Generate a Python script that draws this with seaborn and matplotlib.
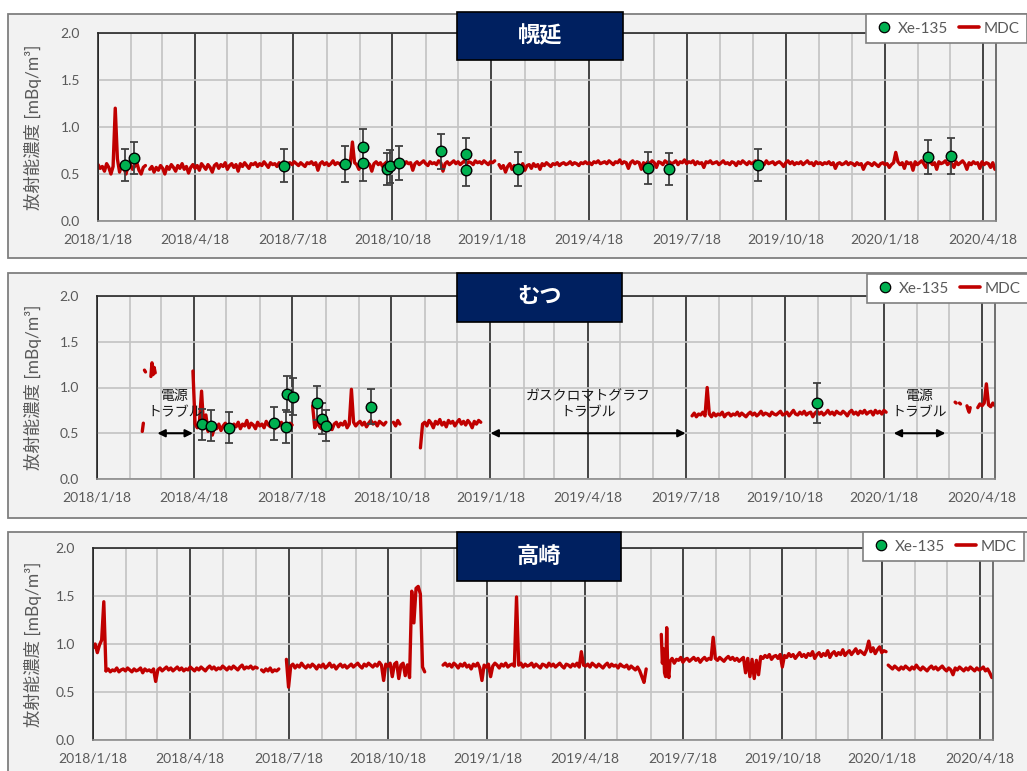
import pandas as pd
import matplotlib
matplotlib.use("Agg")
import matplotlib.pyplot as plt
import matplotlib.dates as mdates
import matplotlib.transforms as mtransforms
from matplotlib.patches import Rectangle
from matplotlib.lines import Line2D
from matplotlib.ticker import FixedLocator, FuncFormatter
import seaborn as sns

sns.set_style("white")
plt.rcParams["font.family"] = ["Lato", "Noto Sans CJK JP", "DejaVu Sans"]

# ------------------------------------------------------------------ data
X_START = "2018-01-18"
X_END = "2020-04-30"
MAJOR_TICKS = ["2018-01-18", "2018-04-18", "2018-07-18", "2018-10-18",
               "2019-01-18", "2019-04-18", "2019-07-18", "2019-10-18",
               "2020-01-18", "2020-04-18"]
Y_TICKS = [0.0, 0.5, 1.0, 1.5, 2.0]
Y_LABEL = "放射能濃度 [mBq/m³]"
STATIONS = ["幌延", "むつ", "高崎"]

# MDC records: (first date, sampling interval in days, values)
HORONOBE_MDC = [
    ("2018-01-18", 2, [0.60, 0.56, 0.58, 0.53, 0.61, 0.57, 0.50, 0.58, 1.20, 0.66,
                       0.52, 0.60, 0.56, 0.50, 0.59, 0.61, 0.55, 0.58, 0.62, 0.54,
                       0.50, 0.57, 0.59]),
    ("2018-03-07", 2, [0.55, 0.58, 0.52, 0.57, 0.54, 0.59, 0.56, 0.50, 0.58, 0.55,
                       0.60, 0.57, 0.53, 0.59, 0.56, 0.61, 0.55, 0.58, 0.51, 0.57,
                       0.60, 0.56, 0.59, 0.54, 0.61, 0.58, 0.55, 0.60, 0.57, 0.52,
                       0.59, 0.61, 0.56, 0.60, 0.58, 0.62, 0.55, 0.59, 0.61, 0.57,
                       0.60, 0.53, 0.61, 0.58, 0.62, 0.59, 0.56, 0.61, 0.60, 0.62,
                       0.58, 0.61, 0.59, 0.63, 0.60, 0.57, 0.62, 0.60, 0.61, 0.58,
                       0.62, 0.60, 0.63, 0.59, 0.61, 0.62, 0.60, 0.63, 0.61, 0.59,
                       0.62, 0.60, 0.58, 0.62, 0.61, 0.63, 0.60, 0.62, 0.54, 0.61,
                       0.63, 0.60, 0.62, 0.59, 0.61, 0.64, 0.60, 0.62, 0.61, 0.58,
                       0.62, 0.60, 0.63, 0.61, 0.84, 0.62, 0.60, 0.55, 0.61, 0.63,
                       0.59, 0.62, 0.60, 0.53, 0.61, 0.63, 0.60, 0.62, 0.58, 0.61,
                       0.63, 0.60, 0.55, 0.62, 0.61, 0.64, 0.59, 0.62, 0.60, 0.63,
                       0.61, 0.62, 0.54, 0.61, 0.63, 0.60, 0.62, 0.64, 0.61, 0.59,
                       0.63, 0.61, 0.62, 0.60, 0.64, 0.62, 0.53, 0.61, 0.63, 0.60,
                       0.62, 0.64, 0.61, 0.63, 0.60, 0.62, 0.64, 0.61, 0.63, 0.62,
                       0.60, 0.64, 0.62, 0.63, 0.61, 0.64, 0.62, 0.60, 0.63, 0.62,
                       0.64]),
    ("2019-01-25", 2, [0.60, 0.56, 0.59, 0.52, 0.58, 0.61, 0.55, 0.59, 0.53, 0.60,
                       0.57, 0.61, 0.54, 0.59, 0.60, 0.56, 0.61, 0.58, 0.60, 0.55,
                       0.61, 0.59, 0.62, 0.60, 0.58, 0.61, 0.60, 0.62, 0.59, 0.61,
                       0.62, 0.60, 0.61, 0.63, 0.60, 0.62, 0.61, 0.59, 0.62, 0.61,
                       0.63, 0.61, 0.62, 0.60, 0.63, 0.62, 0.64, 0.61, 0.62, 0.63,
                       0.61, 0.64, 0.62, 0.60, 0.63, 0.62, 0.65, 0.61, 0.63, 0.62,
                       0.56, 0.62, 0.64, 0.61, 0.63, 0.62, 0.55, 0.62, 0.60, 0.63,
                       0.61, 0.64, 0.62, 0.57, 0.63, 0.62, 0.60, 0.64, 0.62, 0.63,
                       0.61, 0.62, 0.64, 0.60, 0.63, 0.62, 0.65, 0.61, 0.63, 0.62,
                       0.64, 0.60, 0.63, 0.61, 0.62, 0.57, 0.63, 0.62, 0.64, 0.61,
                       0.62, 0.63, 0.60, 0.62, 0.64, 0.61, 0.62, 0.60, 0.63, 0.62,
                       0.59, 0.63, 0.61, 0.64, 0.62, 0.60, 0.63, 0.61, 0.62, 0.64,
                       0.61, 0.63, 0.62, 0.60, 0.64, 0.61, 0.62, 0.63, 0.60, 0.62,
                       0.63, 0.61, 0.58, 0.62, 0.64, 0.61, 0.63, 0.60, 0.62, 0.61,
                       0.63, 0.60, 0.62, 0.64, 0.61, 0.62, 0.59, 0.63, 0.61, 0.62,
                       0.60, 0.62, 0.61, 0.63, 0.60, 0.62, 0.56, 0.61, 0.62, 0.60,
                       0.61, 0.63, 0.60, 0.62, 0.61, 0.59, 0.62, 0.60, 0.61, 0.55,
                       0.60, 0.62, 0.61, 0.59, 0.62, 0.60, 0.58, 0.61, 0.62, 0.60,
                       0.61, 0.57, 0.60, 0.62, 0.73, 0.63, 0.60, 0.62, 0.56, 0.63,
                       0.61, 0.62, 0.54, 0.63, 0.60, 0.62, 0.64, 0.61, 0.57, 0.62,
                       0.63, 0.60, 0.62, 0.55, 0.63, 0.61, 0.62, 0.64, 0.60, 0.62,
                       0.61, 0.57, 0.63, 0.60, 0.62, 0.64, 0.61, 0.55, 0.62, 0.60,
                       0.63, 0.61, 0.62, 0.56, 0.63, 0.60, 0.62, 0.61, 0.57, 0.62,
                       0.55]),
]
HORONOBE_XE_DATES = ["2018-02-12", "2018-02-20", "2018-07-10", "2018-09-04", "2018-09-21",
                     "2018-09-21", "2018-10-13", "2018-10-16", "2018-10-24", "2018-12-02",
                     "2018-12-25", "2018-12-25", "2019-02-12", "2019-06-12", "2019-07-02",
                     "2019-09-22", "2020-02-27", "2020-03-19"]
HORONOBE_XE = [0.60, 0.67, 0.59, 0.61, 0.79, 0.62, 0.55, 0.58, 0.62, 0.74,
               0.71, 0.54, 0.55, 0.56, 0.55, 0.60, 0.68, 0.69]
HORONOBE_XE_ERR = [0.17, 0.17, 0.18, 0.19, 0.19, 0.19, 0.17, 0.18, 0.18, 0.19,
                   0.17, 0.17, 0.18, 0.17, 0.17, 0.17, 0.18, 0.19]

MUTSU_MDC = [
    ("2018-03-01", 1, [0.52, 0.61]),
    ("2018-03-03", 1, [1.19, 1.17]),
    ("2018-03-09", 1, [1.12, 1.27, 1.14, 1.22, 1.16]),
    ("2018-04-17", 2, [1.18, 0.60, 0.56, 0.62, 0.96, 0.55, 0.70, 0.52, 0.58, 0.48,
                       0.57, 0.55, 0.60, 0.53, 0.58, 0.61, 0.56, 0.59, 0.54, 0.60,
                       0.57, 0.62, 0.55, 0.60, 0.58, 0.64, 0.56, 0.61, 0.59, 0.55,
                       0.62, 0.58, 0.60, 0.56, 0.63, 0.59, 0.57, 0.61, 0.55, 0.60,
                       0.58, 0.62, 0.56, 0.60, 0.54, 0.61, 0.59]),
    ("2018-08-06", 2, [0.80, 0.56, 0.62, 0.58, 0.55, 0.61, 0.57, 0.63, 0.59, 0.54,
                       0.60, 0.62, 0.57, 0.61, 0.59, 0.63, 0.56, 0.60, 0.98, 0.62,
                       0.58, 0.61, 0.63, 0.59, 0.62, 0.57, 0.61, 0.64, 0.60, 0.62,
                       0.58, 0.63, 0.61, 0.59, 0.62]),
    ("2018-10-20", 2, [0.62, 0.58, 0.64, 0.60]),
    ("2018-11-14", 2, [0.34, 0.60, 0.62, 0.58, 0.64, 0.61, 0.56, 0.63, 0.60, 0.65,
                       0.59, 0.62, 0.57, 0.64, 0.61, 0.63, 0.58, 0.62, 0.65, 0.60,
                       0.63, 0.59, 0.64, 0.61, 0.56, 0.63, 0.60, 0.64, 0.62]),
    ("2019-07-24", 2, [0.69, 0.72, 0.68, 0.71, 0.70, 0.73, 0.69, 1.00, 0.71, 0.68,
                       0.72, 0.69, 0.71, 0.70, 0.73, 0.68, 0.71, 0.72, 0.69, 0.71,
                       0.70, 0.73, 0.69, 0.72, 0.70, 0.68, 0.71, 0.73, 0.70, 0.72,
                       0.69, 0.71, 0.74, 0.70, 0.72, 0.71, 0.69, 0.73, 0.71, 0.70,
                       0.72, 0.74, 0.70, 0.71, 0.73, 0.69, 0.72, 0.75, 0.71, 0.70,
                       0.73, 0.71, 0.74, 0.70, 0.72, 0.73, 0.68, 0.72, 0.74, 0.71,
                       0.73, 0.70, 0.72, 0.75, 0.71, 0.73, 0.70, 0.74, 0.72, 0.71,
                       0.74, 0.72, 0.69, 0.73, 0.75, 0.71, 0.73, 0.70, 0.74, 0.72,
                       0.75, 0.71, 0.73, 0.74, 0.70, 0.75, 0.72, 0.74, 0.71, 0.75,
                       0.73]),
    ("2020-03-24", 1, [0.84, 0.83]),
    ("2020-03-28", 1, [0.83, 0.82]),
    ("2020-04-04", 1, [0.80, 0.76, 0.73, 0.78]),
    ("2020-04-14", 2, [0.78, 0.82, 0.80, 0.83, 1.04, 0.81, 0.79, 0.83, 0.80, 0.82]),
]
MUTSU_XE_DATES = ["2018-04-25", "2018-05-04", "2018-05-20", "2018-07-01", "2018-07-12",
                  "2018-07-13", "2018-07-19", "2018-08-10", "2018-08-15", "2018-08-18",
                  "2018-09-29", "2019-11-17"]
MUTSU_XE = [0.60, 0.58, 0.56, 0.61, 0.57, 0.93, 0.90, 0.83, 0.66, 0.58, 0.79, 0.83]
MUTSU_XE_ERR = [0.17, 0.17, 0.17, 0.18, 0.18, 0.20, 0.20, 0.19, 0.17, 0.17, 0.19, 0.22]

# outage periods at むつ: (label, start, end)
MUTSU_OUTAGES = [
    ("電源\nトラブル", "2018-03-15", "2018-04-17"),
    ("ガスクロマトグラフ\nトラブル", "2019-01-18", "2019-07-18"),
    ("電源\nトラブル", "2020-01-27", "2020-03-15"),
]

TAKASAKI_MDC = [
    ("2018-01-18", 2, [0.96, 1.00, 0.91, 0.99, 1.04, 1.44, 0.72]),
    ("2018-01-30", 2, [0.72, 0.74, 0.71, 0.73, 0.72, 0.75, 0.71, 0.73, 0.74, 0.72,
                       0.75, 0.73, 0.71, 0.74, 0.72, 0.73, 0.75, 0.70, 0.74, 0.72,
                       0.73, 0.71, 0.74, 0.61, 0.73, 0.75, 0.72, 0.74, 0.76, 0.73,
                       0.75, 0.72, 0.74, 0.76, 0.73, 0.75, 0.72, 0.74, 0.73, 0.76,
                       0.74, 0.72, 0.75, 0.73, 0.76, 0.74, 0.72, 0.75, 0.77, 0.74,
                       0.76, 0.73, 0.75, 0.74, 0.77, 0.75, 0.73, 0.76, 0.74, 0.77,
                       0.75, 0.73, 0.76, 0.78, 0.74, 0.76, 0.75, 0.77, 0.74, 0.76,
                       0.75]),
    ("2018-06-23", 2, [0.73, 0.71, 0.74, 0.72, 0.75, 0.71, 0.73, 0.72, 0.74]),
    ("2018-07-16", 2, [0.84, 0.55, 0.77, 0.79, 0.75, 0.78, 0.76, 0.80, 0.77, 0.75,
                       0.78, 0.76, 0.79, 0.77, 0.74, 0.78, 0.76, 0.79, 0.75, 0.77,
                       0.80, 0.76, 0.78, 0.74, 0.77, 0.79, 0.76, 0.78, 0.75, 0.77,
                       0.79, 0.76, 0.78, 0.80, 0.77, 0.75, 0.79, 0.77, 0.80, 0.78,
                       0.76, 0.79, 0.77, 0.81, 0.78, 0.62, 0.79, 0.77, 0.80, 0.66,
                       0.79, 0.81, 0.64, 0.78, 0.80, 0.67, 0.78]),
    ("2018-11-05", 2, [0.78, 0.65, 1.55, 1.22, 1.58, 1.60, 1.52, 0.76, 0.71]),
    ("2018-12-08", 2, [0.78, 0.80, 0.77, 0.79, 0.76, 0.80, 0.78, 0.75, 0.79, 0.77,
                       0.80, 0.76, 0.78, 0.74, 0.79, 0.77, 0.80, 0.75, 0.62, 0.78,
                       0.76, 0.79, 0.66, 0.77, 0.80, 0.78, 0.75, 0.79, 0.77, 0.80,
                       0.76, 0.78, 0.79, 0.77, 1.49, 0.78, 0.80, 0.76, 0.79, 0.77,
                       0.78, 0.80, 0.76, 0.79, 0.77, 0.75, 0.79, 0.78, 0.76, 0.80,
                       0.77, 0.79, 0.76, 0.78, 0.80, 0.77, 0.75, 0.79, 0.78, 0.76,
                       0.79, 0.77, 0.80, 0.76, 0.92, 0.78, 0.77, 0.79, 0.76, 0.80,
                       0.78, 0.76, 0.79, 0.77, 0.75, 0.78, 0.80, 0.76, 0.79, 0.77,
                       0.78, 0.75, 0.79, 0.77, 0.76, 0.78, 0.74, 0.77, 0.75, 0.73,
                       0.76, 0.72, 0.66, 0.60, 0.74]),
    ("2019-06-28", 1, [1.10, 0.80, 0.95, 0.70, 0.66, 1.17, 0.72, 0.65, 0.82]),
    ("2019-07-06", 2, [0.82, 0.85, 0.80, 0.84, 0.83, 0.86, 0.81, 0.84, 0.85, 0.82,
                       0.84, 0.86, 0.83, 0.85, 0.81, 0.84, 0.86, 0.83, 0.85, 0.84,
                       1.07, 0.85, 0.83, 0.86, 0.84, 0.82, 0.85, 0.87, 0.84, 0.86,
                       0.83, 0.85, 0.82, 0.84, 0.86, 0.70, 0.85, 0.66, 0.84, 0.64,
                       0.83, 0.68, 0.87, 0.85, 0.88, 0.86, 0.89, 0.84, 0.87, 0.88,
                       0.85, 0.89, 0.76, 0.88, 0.86, 0.90, 0.87, 0.89, 0.85, 0.88,
                       0.91, 0.87, 0.89, 0.86, 0.90, 0.88, 0.92, 0.85, 0.89, 0.91,
                       0.87, 0.90, 0.88, 0.93, 0.86, 0.90, 0.92, 0.88, 0.91, 0.89,
                       0.94, 0.88, 0.91, 0.93, 0.89, 0.92, 0.95, 0.90, 0.93, 0.91,
                       0.89, 0.94, 1.03, 0.92, 0.96, 0.90, 0.94, 0.97, 0.91, 0.93,
                       0.92]),
    ("2020-01-24", 2, [0.78, 0.76, 0.74, 0.77, 0.75, 0.73, 0.76, 0.74, 0.77, 0.75,
                       0.73, 0.76, 0.74, 0.78, 0.75, 0.73, 0.76, 0.74, 0.72, 0.75,
                       0.77, 0.74, 0.76, 0.73, 0.75, 0.77, 0.74, 0.72, 0.75, 0.73,
                       0.68, 0.75, 0.73, 0.76, 0.74, 0.72, 0.75, 0.73, 0.76, 0.74,
                       0.72, 0.75, 0.73, 0.74, 0.76, 0.72, 0.74, 0.70, 0.65]),
]

# ------------------------------------------------------------------ style
FIG_W, FIG_H = 1027, 771
RED = "#C00000"
GREEN = "#00B050"
GREY_TXT = "#595959"
NAVY = "#002060"
PANEL_BG = "#F2F2F2"
MINOR_GRID = "#C3C3C3"

# pixel layout: axes (left, top, right, bottom), outer frame (top, bottom),
# title box (left, top, right, bottom), legend anchor (left, top)
LAYOUT = [
    dict(ax=(98, 33, 996, 221), frame=(14, 258), title=(457, 12, 623, 60), legend=(866, 14)),
    dict(ax=(97, 296, 995, 479), frame=(273, 518), title=(457, 273, 622, 322), legend=(867, 274)),
    dict(ax=(93, 548, 993, 740), frame=(532, 790), title=(457, 532, 621, 581), legend=(863, 532)),
]
YLABEL_X = 42  # pixel x of the y-label anchor


def fx(x):
    return x / FIG_W


def fy(y):
    return 1 - y / FIG_H


def mdc_frame(records):
    rows = []
    for k, (start, step, vals) in enumerate(records):
        dates = pd.Timestamp(start) + pd.to_timedelta([i * step for i in range(len(vals))], unit="D")
        rows.append(pd.DataFrame({"date": dates, "mdc": vals, "seg": k}))
    return pd.concat(rows, ignore_index=True)


def xe_frame(dates, vals, errs):
    return pd.DataFrame({"date": pd.to_datetime(dates), "xe": vals, "err": errs})


def date_label(v, pos=None):
    d = mdates.num2date(v)
    return f"{d.year}/{d.month}/{d.day}"


major_dates = pd.to_datetime(MAJOR_TICKS)
month_dates = [pd.Timestamp(X_START) + pd.DateOffset(months=i) for i in range(28)]
minor_dates = [d for d in month_dates if d not in set(major_dates)]

panels = [
    (mdc_frame(HORONOBE_MDC), xe_frame(HORONOBE_XE_DATES, HORONOBE_XE, HORONOBE_XE_ERR), []),
    (mdc_frame(MUTSU_MDC), xe_frame(MUTSU_XE_DATES, MUTSU_XE, MUTSU_XE_ERR), MUTSU_OUTAGES),
    (mdc_frame(TAKASAKI_MDC), None, []),
]

fig = plt.figure(figsize=(FIG_W / 100, FIG_H / 100), dpi=100)
fig.patch.set_facecolor("white")

legend_handles = [
    Line2D([], [], marker="o", linestyle="none", markersize=7.5,
           markerfacecolor=GREEN, markeredgecolor="black", markeredgewidth=0.9),
    Line2D([], [], color=RED, lw=2.6),
]

for name, lay, (mdc, xe, outages) in zip(STATIONS, LAYOUT, panels):
    l, t, r, b = lay["ax"]
    ft, fb = lay["frame"]
    # outer chart frame
    fig.add_artist(Rectangle((fx(8), fy(fb)), fx(1040 - 8), fy(ft) - fy(fb),
                             transform=fig.transFigure, facecolor=PANEL_BG,
                             edgecolor="#7F7F7F", lw=1.3, zorder=-2))

    ax = fig.add_axes([fx(l), fy(b), fx(r - l), fy(t) - fy(b)])
    ax.set_facecolor("none")
    ax.set_axisbelow(True)

    sns.lineplot(data=mdc, x="date", y="mdc", units="seg", estimator=None,
                 color=RED, linewidth=2.4, ax=ax, legend=False, zorder=2)
    if xe is not None:
        ax.errorbar(xe["date"], xe["xe"], yerr=xe["err"], fmt="none",
                    ecolor="#404040", elinewidth=1.3, capsize=2.6, capthick=1.3, zorder=3)
        sns.scatterplot(data=xe, x="date", y="xe", color=GREEN, edgecolor="black",
                        linewidth=1.0, s=58, ax=ax, legend=False, zorder=4)

    for label, s, e in outages:
        s, e = pd.Timestamp(s), pd.Timestamp(e)
        ax.annotate("", xy=(mdates.date2num(e), 0.5), xytext=(mdates.date2num(s), 0.5),
                    arrowprops=dict(arrowstyle="<|-|>", color="black", lw=1.5,
                                    mutation_scale=11, shrinkA=0, shrinkB=0), zorder=5)
        mid = s + (e - s) / 2
        ax.text(mdates.date2num(mid), 0.82, label, ha="center", va="center",
                fontsize=10, color="#1A1A1A", linespacing=1.15, zorder=5,
                family=["Noto Sans CJK JP", "DejaVu Sans"])

    ax.set_xlim(pd.Timestamp(X_START), pd.Timestamp(X_END))
    ax.set_ylim(0, 2.0)
    ax.xaxis.set_major_locator(FixedLocator(mdates.date2num(major_dates)))
    ax.xaxis.set_major_formatter(FuncFormatter(date_label))
    ax.yaxis.set_major_locator(FixedLocator(Y_TICKS))
    ax.yaxis.set_major_formatter(FuncFormatter(lambda v, p: f"{v:.1f}"))

    # monthly grid lines, then quarterly ones on top
    for d in minor_dates:
        ax.axvline(mdates.date2num(d), color=MINOR_GRID, lw=1.2, zorder=0.5)
    ax.grid(which="major", axis="x", color="#262626", lw=1.2, zorder=0.6)
    ax.grid(which="major", axis="y", color=MINOR_GRID, lw=1.2)

    ax.tick_params(axis="x", which="major", length=4, width=1, color="#7F7F7F",
                   pad=5, labelsize=10, labelcolor=GREY_TXT)
    ax.tick_params(axis="y", length=0, pad=13, labelsize=10, labelcolor=GREY_TXT)

    for side, sp in ax.spines.items():
        sp.set_visible(True)
        sp.set_linewidth(1.2)
        sp.set_color("#262626" if side in ("left", "top") else "#595959")
    ax.spines["bottom"].set_color("#8C8C8C")

    ax.set_xlabel("")
    ax.set_ylabel(Y_LABEL, fontsize=12.5, color=GREY_TXT)
    ax.yaxis.set_label_coords(fx(YLABEL_X), 0.5,
                              transform=mtransforms.blended_transform_factory(
                                  fig.transFigure, ax.transAxes))

    # station name box
    tl, tt, tr, tb = lay["title"]
    fig.add_artist(Rectangle((fx(tl), fy(tb)), fx(tr - tl), fy(tt) - fy(tb),
                             transform=fig.transFigure, facecolor=NAVY,
                             edgecolor="black", lw=1.2, zorder=6))
    fig.text(fx((tl + tr) / 2), fy((tt + tb) / 2), name, ha="center", va="center",
             color="white", fontsize=16, fontweight="bold", zorder=7,
             family=["Noto Sans CJK JP", "DejaVu Sans"])

    lx, ly = lay["legend"]
    leg = fig.legend(legend_handles, ["Xe-135", "MDC"], loc="upper left",
                     bbox_to_anchor=(fx(lx), fy(ly)), bbox_transform=fig.transFigure,
                     ncol=2, frameon=True, fancybox=False, framealpha=1,
                     facecolor="white", edgecolor="#7F7F7F", fontsize=11,
                     labelcolor=GREY_TXT, handlelength=1.3, handletextpad=0.3,
                     columnspacing=0.7, borderpad=0.5, borderaxespad=0)
    leg.get_frame().set_linewidth(1.2)
    leg.set_zorder(8)

fig.savefig("out.png", dpi=100)
